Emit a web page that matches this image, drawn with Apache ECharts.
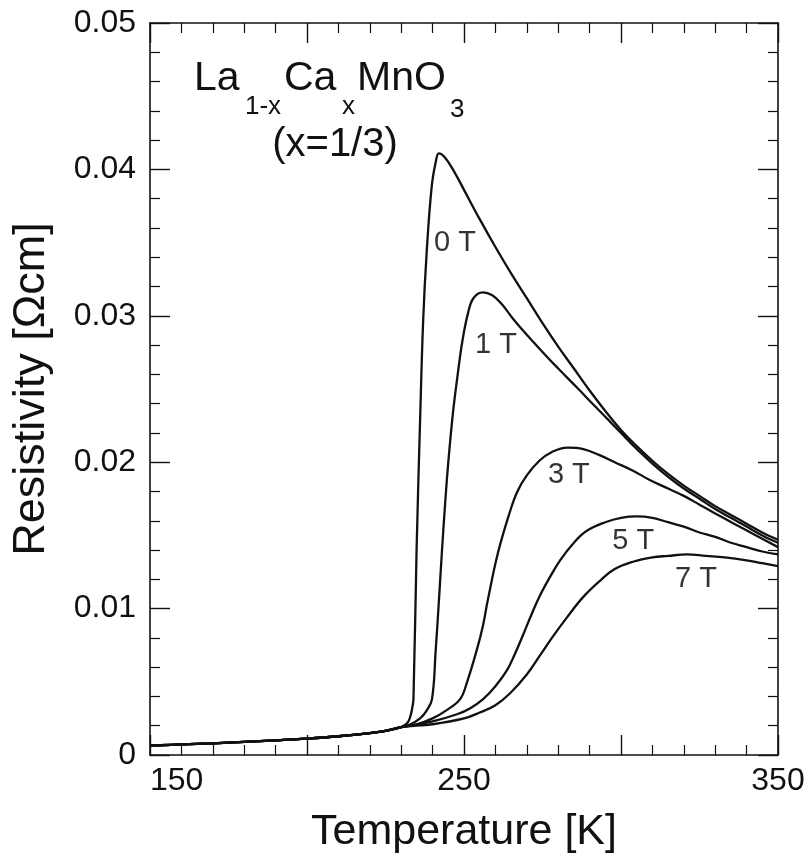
<!DOCTYPE html>
<html>
<head>
<meta charset="utf-8">
<script src="https://cdn.jsdelivr.net/npm/echarts@6/dist/echarts.min.js"></script>
<style>
html,body{margin:0;padding:0;background:#fff;}
#chart{width:811px;height:861px;}
</style>
</head>
<body>
<div id="chart"></div>
<script>
// ---------- data ----------
const temps0T = [150,160,170,180,190,200,210,220,225,230,232,233,233.5,233.9,234.9,236.1,237.0,238.1,239.7,241,242,244,247,250,255,260,265,270,275,280,285,290,295,300,305,310,315,320,325,330,335,340,345,350];
const rho0T   = [0.00065,0.00072,0.0008,0.0009,0.001,0.00112,0.00128,0.0015,0.00165,0.0019,0.0022,0.0027,0.0032,0.0038,0.0140,0.0235,0.0297,0.0343,0.0388,0.0405,0.0411,0.0408,0.0398,0.0386,0.0366,0.0347,0.0329,0.0312,0.0295,0.0279,0.0264,0.0249,0.0235,0.0222,0.0211,0.0201,0.0192,0.0184,0.0177,0.0170,0.0164,0.0158,0.0152,0.0147];

const temps1T = [150,160,170,180,190,200,210,220,225,230,233,236,238,239.8,241,242,243,244,245,246.5,248,249.5,251.3,253,256,259,262,265.6,270,276.4,280,286.9,290,295,300,305,310,315,320,325,330,335,340,345,350];
const rho1T   = [0.00065,0.00072,0.0008,0.0009,0.001,0.00112,0.00128,0.0015,0.00165,0.0019,0.0021,0.0025,0.0030,0.0038,0.0072,0.0105,0.0140,0.0172,0.0200,0.0234,0.0260,0.0283,0.0302,0.0312,0.0316,0.0314,0.0308,0.0298,0.0287,0.0272,0.0264,0.0249,0.0242,0.0231,0.0220,0.0209,0.0199,0.0190,0.0182,0.0175,0.0168,0.0162,0.0156,0.0150,0.0145];

const temps3T = [150,160,170,180,190,200,210,220,225,230,235,240,244,248.7,251,254.1,256,257.6,260.8,264.6,267,270,274,278,283,288,293,298,304,309,315,320,325,330,336,343,350];
const rho3T   = [0.00065,0.00072,0.0008,0.0009,0.001,0.00112,0.00128,0.0015,0.00165,0.0019,0.0021,0.0025,0.0030,0.0038,0.0050,0.0072,0.0088,0.0106,0.0138,0.0166,0.0180,0.0191,0.0201,0.0207,0.0210,0.0209,0.0205,0.0200,0.0194,0.0188,0.0182,0.0177,0.0171,0.0165,0.0158,0.0150,0.0142];

const temps5T = [150,160,170,180,190,200,210,220,225,230,240,248,252,256,260,263.7,266,268.8,271.5,274.2,277.5,280.6,285,289,295,300,305,310,315,320,325,330,335,340,345,350];
const rho5T   = [0.00065,0.00072,0.0008,0.0009,0.001,0.00112,0.00128,0.0015,0.00165,0.0019,0.0023,0.0028,0.0032,0.0038,0.0047,0.0058,0.0068,0.0082,0.0096,0.0109,0.0122,0.0133,0.0145,0.0153,0.0159,0.0162,0.0163,0.0162,0.0159,0.0156,0.0152,0.0149,0.0145,0.0142,0.0139,0.0137];

const temps7T = [150,160,170,180,190,200,210,220,225,230,240,250,255,260,264.6,270,274.2,278,282.8,288,293.3,298,303.8,310,315,321,327,333,340,345,350];
const rho7T   = [0.00065,0.00072,0.0008,0.0009,0.001,0.00112,0.00128,0.0015,0.00165,0.0019,0.0021,0.0025,0.0029,0.0034,0.0042,0.0055,0.0068,0.0080,0.0094,0.0108,0.0119,0.0127,0.0132,0.0135,0.0136,0.0137,0.0136,0.0135,0.0133,0.0131,0.0129];

const fieldNames = ['0 T','1 T','3 T','5 T','7 T'];
const labelT     = [247.1, 260.2, 283.4, 303.9, 323.9];
const labelRho   = [0.0350, 0.0280, 0.0191, 0.0146, 0.0120];

const xTickLabels = [150, 250, 350];
const yTickLabels = ['0','0.01','0.02','0.03','0.04','0.05'];

// ---------- chart ----------
const FONT = '"Liberation Sans", Arial, Helvetica, sans-serif';
const chart = echarts.init(document.getElementById('chart'), null, {renderer:'canvas'});

function zip(ts, rs){ return ts.map((t,i)=>[t, rs[i]]); }
const curves = [[temps0T,rho0T],[temps1T,rho1T],[temps3T,rho3T],[temps5T,rho5T],[temps7T,rho7T]];

const axisLineStyle = {color:'#111', width:1.6};
function xAxisCfg(pos, labels){
  return {
    type:'value', position:pos, min:150, max:350, interval:50,
    axisLine:{show:true, onZero:false, lineStyle:axisLineStyle},
    axisTick:{show:true, inside:true, length:20, lineStyle:{color:'#111', width:1.4}},
    minorTick:{show:true, splitNumber:5, length:10, lineStyle:{color:'#111', width:1.2}},
    splitLine:{show:false}, minorSplitLine:{show:false},
    axisLabel: labels ? {
      show:true, fontSize:32, fontFamily:FONT, color:'#111', margin:10,
      alignMinLabel:'left',
      formatter: v => xTickLabels.indexOf(v) >= 0 ? String(v) : ''
    } : {show:false}
  };
}
function yAxisCfg(pos, labels){
  return {
    type:'value', position:pos, min:0, max:0.05, interval:0.01,
    axisLine:{show:true, onZero:false, lineStyle:axisLineStyle},
    axisTick:{show:true, inside:true, length:20, lineStyle:{color:'#111', width:1.4}},
    minorTick:{show:true, splitNumber:5, length:10, lineStyle:{color:'#111', width:1.2}},
    splitLine:{show:false}, minorSplitLine:{show:false},
    axisLabel: labels ? {
      show:true, fontSize:32, fontFamily:FONT, color:'#111', margin:14,
      formatter: v => yTickLabels[Math.round(v/0.01)]
    } : {show:false}
  };
}

const xMain = xAxisCfg('bottom', true);
xMain.name = 'Temperature [K]';
xMain.nameLocation = 'middle';
xMain.nameGap = 56;
xMain.nameTextStyle = {fontSize:43, fontFamily:FONT, color:'#111'};
const yMain = yAxisCfg('left', true);
yMain.name = 'Resistivity [Ωcm]';
yMain.nameLocation = 'middle';
yMain.nameGap = 96;
yMain.nameTextStyle = {fontSize:45, fontFamily:FONT, color:'#111'};

const series = curves.map((c, i) => ({
  type:'line', name:fieldNames[i], xAxisIndex:0, yAxisIndex:0,
  data: zip(c[0], c[1]), showSymbol:false, symbol:'none',
  smooth:0.4,
  lineStyle:{color:'#111', width:2.3}, z:3
}));
series.push({
  type:'scatter', xAxisIndex:0, yAxisIndex:0, symbolSize:1,
  itemStyle:{color:'rgba(0,0,0,0)'},
  data: labelT.map((t,i)=>[t, labelRho[i], fieldNames[i]]),
  label:{show:true, position:'inside', formatter:p=>p.data[2], fontSize:29, fontFamily:FONT, color:'#000'},
  silent:true, z:4
});

// title text (chemical formula with subscripts), y = top of text box
const titleParts = [
  {t:'La',  x:194, top:58, size:41},
  {t:'1-x', x:245, top:94, size:26},
  {t:'Ca',  x:284, top:58, size:41},
  {t:'x',   x:342, top:94, size:26},
  {t:'MnO', x:357, top:58, size:41},
  {t:'3',   x:450, top:97, size:26}
];
const graphics = titleParts.map(p => ({
  type:'text', x:p.x, y:p.top, silent:true,
  style:{text:p.t, fontSize:p.size, fontFamily:FONT, fill:'#111', verticalAlign:'top'}
}));
graphics.push({
  type:'text', x:335, y:125, silent:true,
  style:{text:'(x=1/3)', fontSize:40, fontFamily:FONT, fill:'#111', align:'center', verticalAlign:'top'}
});

chart.setOption({
  animation:false,
  backgroundColor:'#fff',
  grid:{left:150, right:33, top:23, bottom:106, containLabel:false},
  xAxis:[xMain, xAxisCfg('top', false)],
  yAxis:[yMain, yAxisCfg('right', false)],
  series: series,
  graphic: graphics
});
</script>
</body>
</html>
